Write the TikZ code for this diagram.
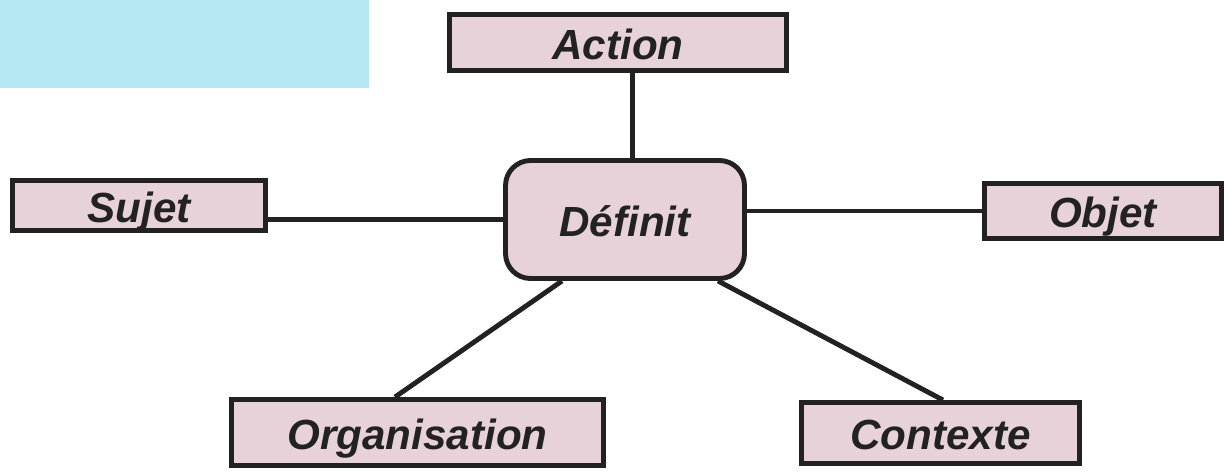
\documentclass[tikz,border=0pt]{standalone}
\usepackage{fontspec}
\setmainfont{Liberation Sans}
\usetikzlibrary{calc}
\definecolor{inkdark}{HTML}{222222}
\definecolor{boxpink}{HTML}{E8D2D9}
\definecolor{bandcyan}{HTML}{B5E8F3}
\tikzset{
  term/.style={draw=inkdark, fill=boxpink, line width=2.8pt, inner sep=0pt,
    text height=19pt, text depth=0pt,
    font=\fontsize{24}{28}\selectfont\bfseries\itshape, text=inkdark},
  hub/.style={term, rounded corners=0.5cm},
  link/.style={draw=inkdark, line width=2.8pt}
}
\begin{document}
\begin{tikzpicture}[x=0.02cm, y=-0.02cm]
  \useasboundingbox (0,0) rectangle (1229,476);
  % pale band in the upper left corner
  \fill[bandcyan] (0,0) rectangle (369,88);

  % central concept and its terms
  \node[hub,  minimum width=4.78cm, minimum height=2.36cm] (defin) at (625,219.5) {Définit};
  \node[term, minimum width=6.74cm, minimum height=1.12cm] (act)   at (618,42.5)  {Action};
  \node[term, minimum width=5.06cm, minimum height=1.00cm] (sujet) at (139,205.5) {Sujet};
  \node[term, minimum width=4.74cm, minimum height=1.10cm] (objet) at (1103,211)  {Objet};
  \node[term, minimum width=7.44cm, minimum height=1.32cm] (org)   at (417.5,432.5) {Organisation};
  \node[term, minimum width=5.56cm, minimum height=1.22cm] (ctx)   at (940.5,433) {Contexte};

  % links from the centre to each term
  \draw[link] ($(act.south)+(14.7,0)$) -- ($(defin.north)+(7.7,0)$);
  \draw[link] (sujet.east |- defin.west) -- (defin.west);
  \draw[link] (defin.east |- objet.west) -- (objet.west);
  \draw[link] ($(defin.south)+(-63,0)$) -- ($(org.north)+(-22.5,0)$);
  \draw[link] ($(defin.south)+(93,0)$) -- ($(ctx.north)+(2.5,0)$);
\end{tikzpicture}
\end{document}
